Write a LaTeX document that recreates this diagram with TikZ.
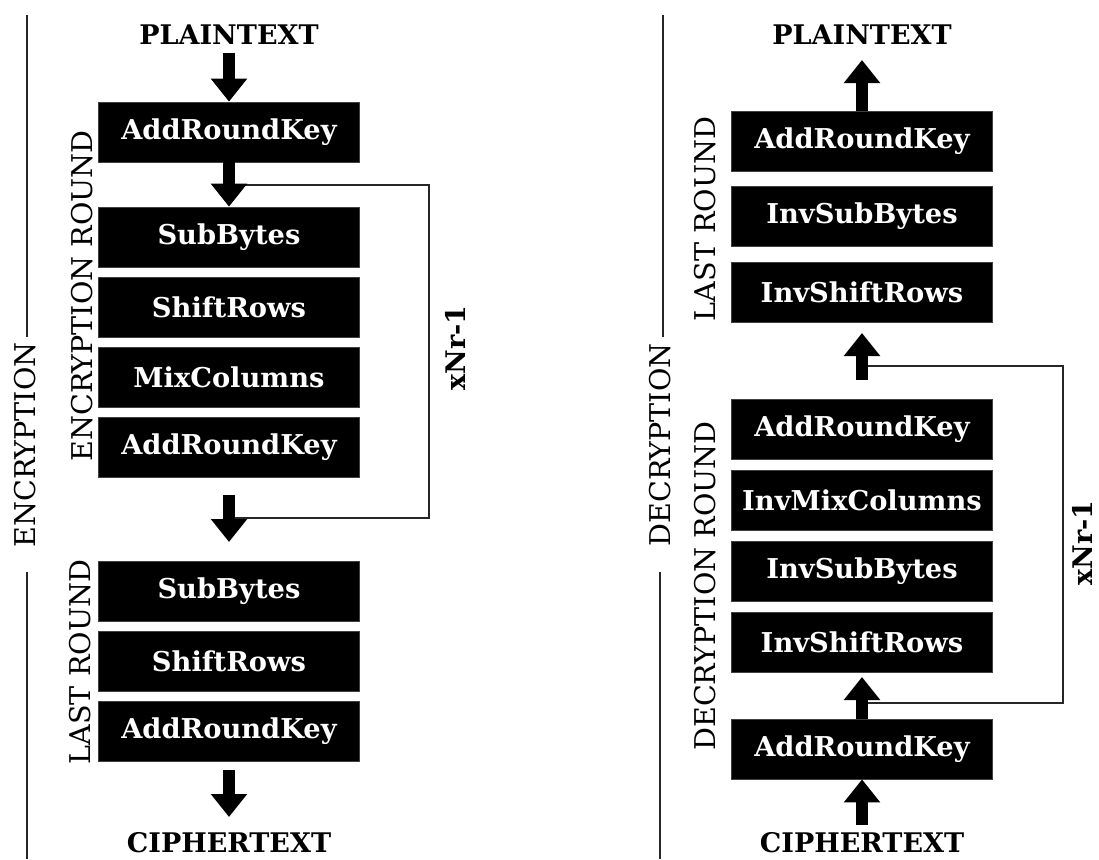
\documentclass[tikz,border=0pt]{standalone}
\usepackage{fontspec}
\setmainfont{DejaVu Serif}
\usetikzlibrary{arrows.meta}
\begin{document}
\begin{tikzpicture}[x=1pt,y=-1pt,
  opbox/.style={fill=black, draw=black!75, line width=0.8pt, minimum width=261pt, minimum height=60pt, inner sep=0pt, text=white, font=\bfseries\fontsize{27.3}{30}\selectfont},
  endlbl/.style={font=\bfseries\fontsize{27}{30}\selectfont, inner sep=0pt},
  sidelbl/.style={rotate=90, font=\fontsize{28.6}{30}\selectfont, inner sep=0pt},
  looplbl/.style={rotate=90, font=\bfseries\fontsize{27}{30}\selectfont, inner sep=0pt},
  blockarrow/.style={line width=12pt, -{Triangle[width=35pt,length=23pt]}},
  loopline/.style={line width=1.8pt, black!85},
  framerule/.style={line width=2pt, black!85}
]
\useasboundingbox (0,0) rectangle (1099,859);

% ---------- ENCRYPTION ----------
\node[endlbl] (pt1) at (229,35) {PLAINTEXT};
\node[opbox] (e0) at (229,132) {AddRoundKey};
\node[opbox] (e1) at (229,237) {SubBytes};
\node[opbox] (e2) at (229,307) {ShiftRows};
\node[opbox] (e3) at (229,377) {MixColumns};
\node[opbox] (e4) at (229,447) {AddRoundKey};
\node[opbox] (e5) at (229,591) {SubBytes};
\node[opbox] (e6) at (229,661) {ShiftRows};
\node[opbox] (e7) at (229,731) {AddRoundKey};
\node[endlbl] (ct1) at (229,843) {CIPHERTEXT};

\coordinate (l1a) at (229,185);
\coordinate (l1b) at (429,185);
\coordinate (l1c) at (429,518);
\coordinate (l1d) at (229,518);
\draw[loopline] (l1a) -- (l1b) -- (l1c) -- (l1d);

\coordinate (a1s) at (229,53);
\coordinate (a3s) at (229,495);
\coordinate (a3e) at (229,542);
\coordinate (a4s) at (229,770);
\coordinate (a4e) at (229,817);
\draw[blockarrow] (a1s) -- (e0.north);
\draw[blockarrow] (e0.south) -- (e1.north);
\draw[blockarrow] (a3s) -- (a3e);
\draw[blockarrow] (a4s) -- (a4e);

\node[sidelbl] (encr) at (82,296) {ENCRYPTION ROUND};
\node[sidelbl] (last1) at (80,662) {LAST ROUND};
\node[sidelbl] (enc) at (25,445) {ENCRYPTION};
\node[looplbl] (x1) at (455,348) {xNr-1};
\coordinate (f1a) at (27,15);
\coordinate (f1b) at (27,337);
\coordinate (f1c) at (27,572);
\coordinate (f1d) at (27,859);
\draw[framerule] (f1a) -- (f1b);
\draw[framerule] (f1c) -- (f1d);

% ---------- DECRYPTION ----------
\node[endlbl] (pt2) at (862,35) {PLAINTEXT};
\node[opbox] (d0) at (862,141) {AddRoundKey};
\node[opbox] (d1) at (862,216) {InvSubBytes};
\node[opbox] (d2) at (862,292) {InvShiftRows};
\node[opbox] (d3) at (862,429) {AddRoundKey};
\node[opbox] (d4) at (862,500) {InvMixColumns};
\node[opbox] (d5) at (862,571) {InvSubBytes};
\node[opbox] (d6) at (862,642) {InvShiftRows};
\node[opbox] (d7) at (862,749) {AddRoundKey};
\node[endlbl] (ct2) at (862,843) {CIPHERTEXT};

\coordinate (l2a) at (862,366);
\coordinate (l2b) at (1063,366);
\coordinate (l2c) at (1063,703);
\coordinate (l2d) at (862,703);
\draw[loopline] (l2a) -- (l2b) -- (l2c) -- (l2d);

\coordinate (b1e) at (862,60);
\coordinate (b2s) at (862,380);
\coordinate (b2e) at (862,333);
\coordinate (b3e) at (862,677);
\coordinate (b4s) at (862,825);
\draw[blockarrow] (d0.north) -- (b1e);
\draw[blockarrow] (b2s) -- (b2e);
\draw[blockarrow] (d7.north) -- (b3e);
\draw[blockarrow] (b4s) -- (d7.south);

\node[sidelbl] (last2) at (705,219) {LAST ROUND};
\node[sidelbl] (decr) at (705,586) {DECRYPTION ROUND};
\node[sidelbl] (dec) at (660,445) {DECRYPTION};
\node[looplbl] (x2) at (1082,543) {xNr-1};
\coordinate (f2a) at (663,15);
\coordinate (f2b) at (663,337);
\coordinate (f2c) at (660,572);
\coordinate (f2d) at (660,859);
\draw[framerule] (f2a) -- (f2b);
\draw[framerule] (f2c) -- (f2d);
\end{tikzpicture}
\end{document}
